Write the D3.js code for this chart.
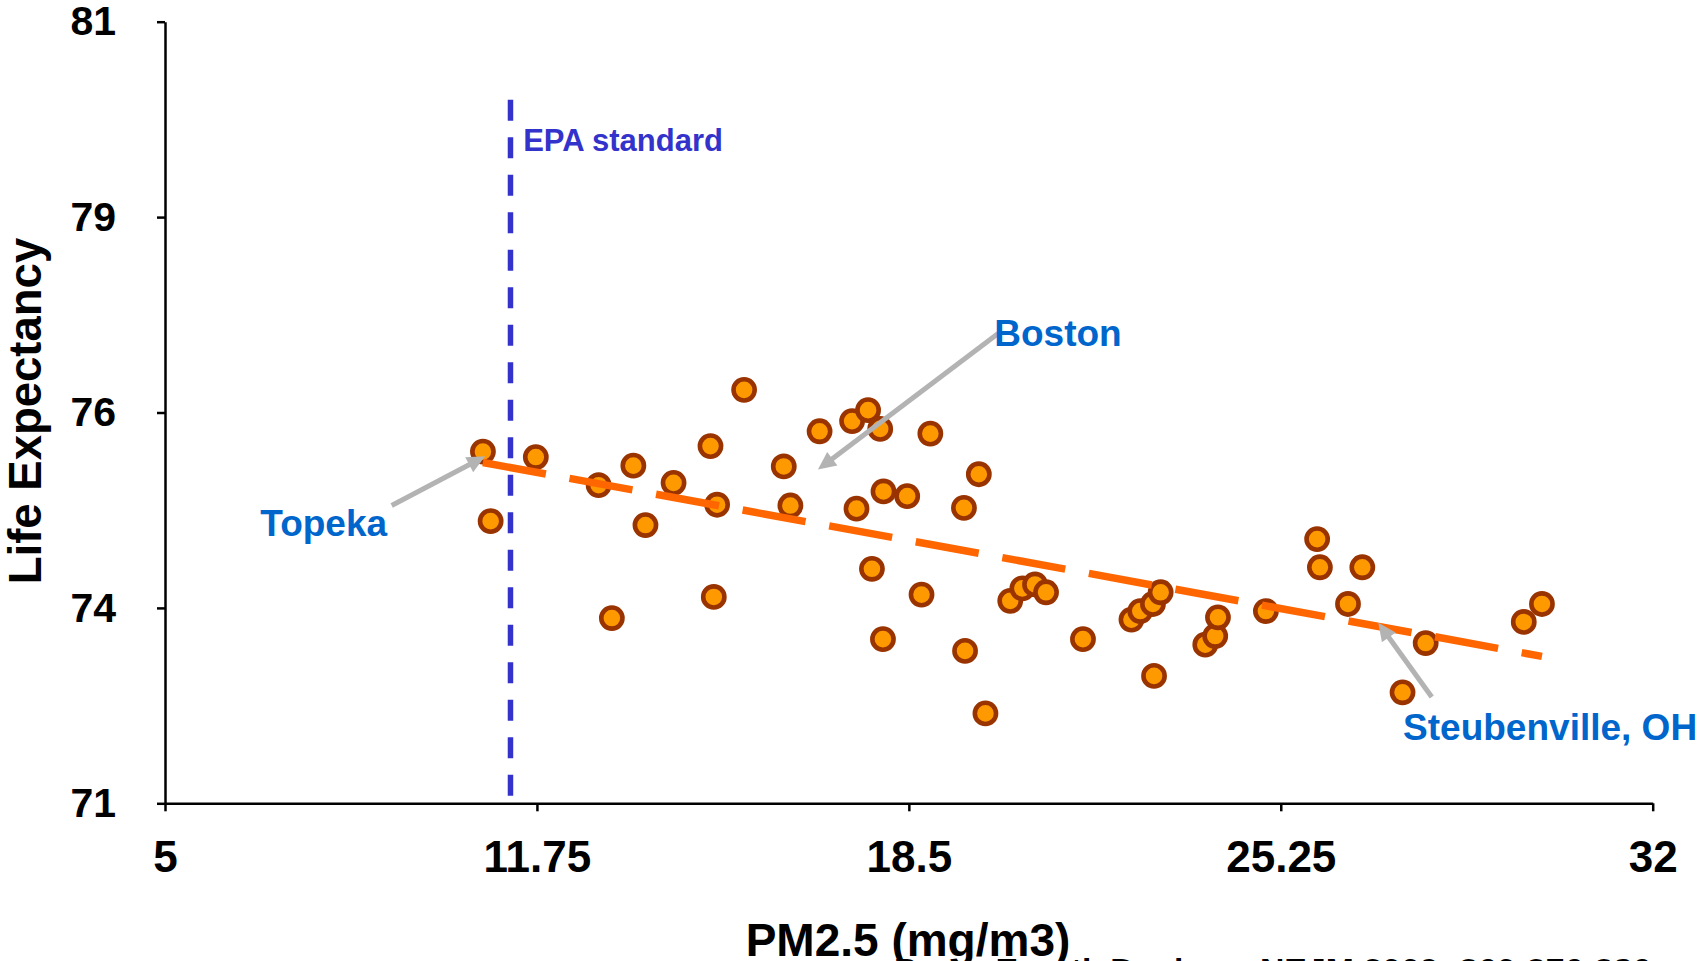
<!DOCTYPE html>
<html><head><meta charset="utf-8">
<script src="https://cdn.jsdelivr.net/npm/d3@7"></script>
<style>body{margin:0;background:#fff;} svg{display:block;}</style>
</head><body>
<script>
// ---- data ----
const pmValues = [10.77, 10.91, 11.73, 12.87, 13.11, 13.50, 13.72, 14.23, 14.90, 15.02, 14.96, 15.51, 16.23, 16.35, 16.88, 17.47, 17.76, 17.98, 17.55, 18.04, 17.83, 18.03, 18.47, 18.89, 18.73, 19.50, 19.77, 19.52, 19.89, 20.34, 20.56, 20.79, 20.99, 21.66, 22.54, 22.70, 22.93, 23.07, 22.95, 23.88, 24.06, 24.11, 24.98, 25.91, 25.96, 26.73, 26.47, 27.46, 27.88, 29.66, 29.99];
const lifeValues = [75.50, 74.61, 75.43, 75.07, 73.37, 75.32, 74.56, 75.10, 75.57, 74.82, 73.64, 76.29, 75.31, 74.81, 75.76, 75.89, 76.03, 75.79, 74.77, 74.99, 74.00, 73.10, 74.93, 75.73, 73.67, 74.78, 75.21, 72.95, 72.15, 73.59, 73.75, 73.80, 73.70, 73.10, 73.35, 73.46, 73.55, 73.70, 72.63, 73.03, 73.14, 73.38, 73.46, 74.38, 74.02, 74.02, 73.55, 72.42, 73.05, 73.32, 73.55];
const trendX = [10.77, 29.99];
const trendY = [75.36, 72.88];
const epaX = 11.27;
const epaY = [71, 80.0];
const xTicks = [5, 11.75, 18.5, 25.25, 32];
const xTickLabels = ["5", "11.75", "18.5", "25.25", "32"];
const yTicks = [71, 73.5, 76, 78.5, 81];
const yTickLabels = ["71", "74", "76", "79", "81"];
const labelNames = ["Topeka", "Boston", "Steubenville, OH"];
const labelX = [6.73, 20.05, 27.47];
const labelY = [74.42, 76.85, 71.81];
const arrowFromX = [9.114, 20.12, 27.99];
const arrowFromY = [74.81, 77.01, 72.36];
const arrowToX = [10.81, 16.85, 27.02];
const arrowToY = [75.44, 75.27, 73.31];
const epaLabel = "EPA standard";
const epaLabelX = 11.50, epaLabelY = 79.34;
const xTitle = "PM2.5 (mg/m3)";
const yTitle = "Life Expectancy";
const citation = "Pope, Ezzati, Dockery. NEJM 2009; 360:376-386";

// ---- layout ----
const W = 1698, H = 961;
const FONT = "'Liberation Sans', Arial, Helvetica, sans-serif";
const x = d3.scaleLinear().domain([5, 32]).range([165, 1652.7]);
const y = d3.scaleLinear().domain([71, 81]).range([803.3, 21.7]);

const svg = d3.select("body").append("svg").attr("width", W).attr("height", H)
  .style("background", "#fff");

// axes
const xAxis = d3.axisBottom(x).tickValues(xTicks)
  .tickFormat((d, i) => xTickLabels[i]).tickSize(8).tickSizeOuter(0).tickPadding(29);
const yAxis = d3.axisLeft(y).tickValues(yTicks)
  .tickFormat((d, i) => yTickLabels[i]).tickSize(8).tickSizeOuter(0).tickPadding(41);

const gx = svg.append("g").attr("transform", `translate(0,${y(71)})`).call(xAxis);
const gy = svg.append("g").attr("transform", `translate(${x(5)},0)`).call(yAxis);
[gx, gy].forEach(g => {
  g.attr("font-family", FONT).attr("font-weight", "bold");
  g.selectAll("path.domain").attr("stroke", "#000").attr("stroke-width", 2.5);
  g.selectAll(".tick line").attr("stroke", "#000").attr("stroke-width", 2.5);
  g.selectAll(".tick text").attr("fill", "#000");
});
gx.attr("font-size", 44);
gy.attr("font-size", 41);

// axis titles
svg.append("text")
  .attr("transform", `translate(${41},${411}) rotate(-90)`)
  .attr("text-anchor", "middle")
  .attr("font-family", FONT).attr("font-weight", "bold").attr("font-size", 45.5)
  .attr("fill", "#000").text(yTitle);

svg.append("text")
  .attr("x", 908).attr("y", 956)
  .attr("text-anchor", "middle")
  .attr("font-family", FONT).attr("font-weight", "bold").attr("font-size", 46)
  .attr("fill", "#000").text(xTitle);

svg.append("text")
  .attr("x", 894).attr("y", 981)
  .attr("font-family", FONT).attr("font-weight", "bold").attr("font-size", 32)
  .attr("textLength", 757).attr("lengthAdjust", "spacingAndGlyphs")
  .attr("fill", "#000").text(citation);

// points
svg.append("g").selectAll("circle")
  .data(pmValues.map((v, i) => [v, lifeValues[i]]))
  .join("circle")
  .attr("cx", d => x(d[0])).attr("cy", d => y(d[1]))
  .attr("r", 10.6)
  .attr("fill", "#FF9900").attr("stroke", "#993300").attr("stroke-width", 4.6);

// trend line
svg.append("line")
  .attr("x1", x(trendX[0])).attr("y1", y(trendY[0]))
  .attr("x2", x(trendX[1])).attr("y2", y(trendY[1]))
  .attr("stroke", "#FF6600").attr("stroke-width", 7.5)
  .attr("stroke-dasharray", "64 24").attr("stroke-linecap", "butt");

// EPA line
svg.append("line")
  .attr("x1", x(epaX)).attr("y1", y(epaY[1]))
  .attr("x2", x(epaX)).attr("y2", y(epaY[0]))
  .attr("stroke", "#3333CC").attr("stroke-width", 5.5)
  .attr("stroke-dasharray", "21 16.5");

svg.append("text")
  .attr("x", x(epaLabelX)).attr("y", y(epaLabelY))
  .attr("font-family", FONT).attr("font-weight", "bold").attr("font-size", 31)
  .attr("fill", "#3333CC").text(epaLabel);

// arrows
const ag = svg.append("g");
arrowFromX.forEach((fx, i) => {
  const x0 = x(fx), y0 = y(arrowFromY[i]);
  const x1 = x(arrowToX[i]), y1 = y(arrowToY[i]);
  const dx = x1 - x0, dy = y1 - y0, L = Math.hypot(dx, dy);
  const ux = dx / L, uy = dy / L;
  const headLen = 18, headHalf = 8.5;
  const bx = x1 - ux * headLen, by = y1 - uy * headLen;
  ag.append("line").attr("x1", x0).attr("y1", y0).attr("x2", bx + ux * 2).attr("y2", by + uy * 2)
    .attr("stroke", "#B3B3B3").attr("stroke-width", 5);
  ag.append("polygon")
    .attr("points", [[x1, y1], [bx - uy * headHalf, by + ux * headHalf], [bx + uy * headHalf, by - ux * headHalf]].map(p => p.join(",")).join(" "))
    .attr("fill", "#B3B3B3");
});

// labels
svg.append("g").selectAll("text")
  .data(labelNames)
  .join("text")
  .attr("x", (d, i) => x(labelX[i])).attr("y", (d, i) => y(labelY[i]))
  .attr("font-family", FONT).attr("font-weight", "bold").attr("font-size", 37)
  .attr("fill", "#0066CC").text(d => d);
</script>
</body></html>
